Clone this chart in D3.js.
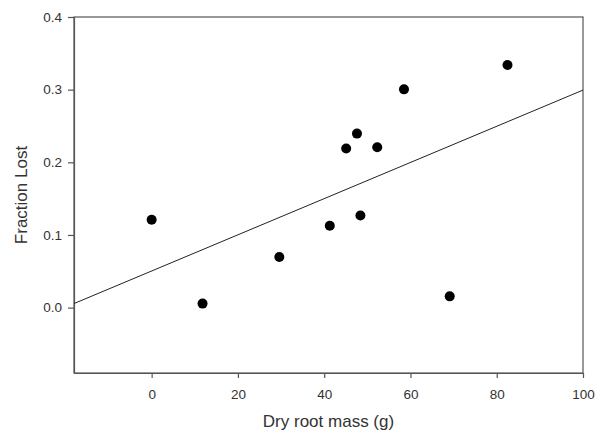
<!DOCTYPE html>
<html>
<head>
<meta charset="utf-8">
<script src="https://cdn.jsdelivr.net/npm/d3@7"></script>
<style>
  body { margin: 0; background: #fff; }
  svg { display: block; font-family: "Liberation Sans", Arial, sans-serif; }
</style>
</head>
<body>
<svg width="601" height="435"></svg>
<script>
// data
const rootMass = [0, 11.8, 29.6, 41.3, 45.1, 47.6, 48.4, 52.3, 58.5, 69.1, 82.5];
const fractionLost = [0.121, 0.0055, 0.0696, 0.1126, 0.219, 0.2395, 0.1268, 0.2207, 0.3004, 0.0155, 0.334];
const fitIntercept = 0.0504;
const fitSlope = 0.00249;
const xTicks = [0, 20, 40, 60, 80, 100];
const yTicks = [0.0, 0.1, 0.2, 0.3, 0.4];

const width = 601, height = 435;
const margin = { top: 17, right: 18, bottom: 62, left: 74 };

const svg = d3.select("svg");

const x = d3.scaleLinear()
    .domain([-18, 100])
    .range([margin.left, width - margin.right]);

const y = d3.scaleLinear()
    .domain([-0.09, 0.4])
    .range([height - margin.bottom, margin.top]);

const axisColor = "#555";
const textColor = "#333";

// frame
svg.append("rect")
    .attr("x", x.range()[0])
    .attr("y", y.range()[1])
    .attr("width", x.range()[1] - x.range()[0])
    .attr("height", y.range()[0] - y.range()[1])
    .attr("fill", "none")
    .attr("stroke", axisColor)
    .attr("stroke-width", 1.2);

const xAxis = svg.append("g")
    .attr("transform", `translate(0,${y.range()[0]})`)
    .call(d3.axisBottom(x).tickValues(xTicks).tickSizeInner(5).tickSizeOuter(0)
        .tickPadding(11).tickFormat(d3.format("d")));

const yAxis = svg.append("g")
    .attr("transform", `translate(${x.range()[0]},0)`)
    .call(d3.axisLeft(y).tickValues(yTicks).tickSizeInner(6).tickSizeOuter(0)
        .tickPadding(6).tickFormat(d3.format(".1f")));

for (const g of [xAxis, yAxis]) {
    g.select(".domain").attr("stroke", axisColor).attr("stroke-width", 1.2);
    g.selectAll(".tick line").attr("stroke", axisColor).attr("stroke-width", 1.2);
    g.selectAll(".tick text")
        .attr("fill", textColor)
        .style("font-size", "13.5px")
        .style("font-family", "'Liberation Sans', Arial, sans-serif");
}

// regression line
const x0 = x.domain()[0], x1 = x.domain()[1];
svg.append("line")
    .attr("x1", x(x0))
    .attr("y1", y(fitIntercept + fitSlope * x0))
    .attr("x2", x(x1))
    .attr("y2", y(fitIntercept + fitSlope * x1))
    .attr("stroke", "#222")
    .attr("stroke-width", 1);

// points
svg.append("g")
    .selectAll("circle")
    .data(rootMass)
    .join("circle")
    .attr("cx", d => x(d))
    .attr("cy", (d, i) => y(fractionLost[i]))
    .attr("r", 5)
    .attr("fill", "#000");

// axis titles
svg.append("text")
    .attr("x", (x.range()[0] + x.range()[1]) / 2)
    .attr("y", 427)
    .attr("text-anchor", "middle")
    .attr("fill", textColor)
    .style("font-size", "17px")
    .text("Dry root mass (g)");

svg.append("text")
    .attr("transform", `translate(27,${(y.range()[0] + y.range()[1]) / 2}) rotate(-90)`)
    .attr("text-anchor", "middle")
    .attr("fill", textColor)
    .style("font-size", "17px")
    .text("Fraction Lost");
</script>
</body>
</html>
